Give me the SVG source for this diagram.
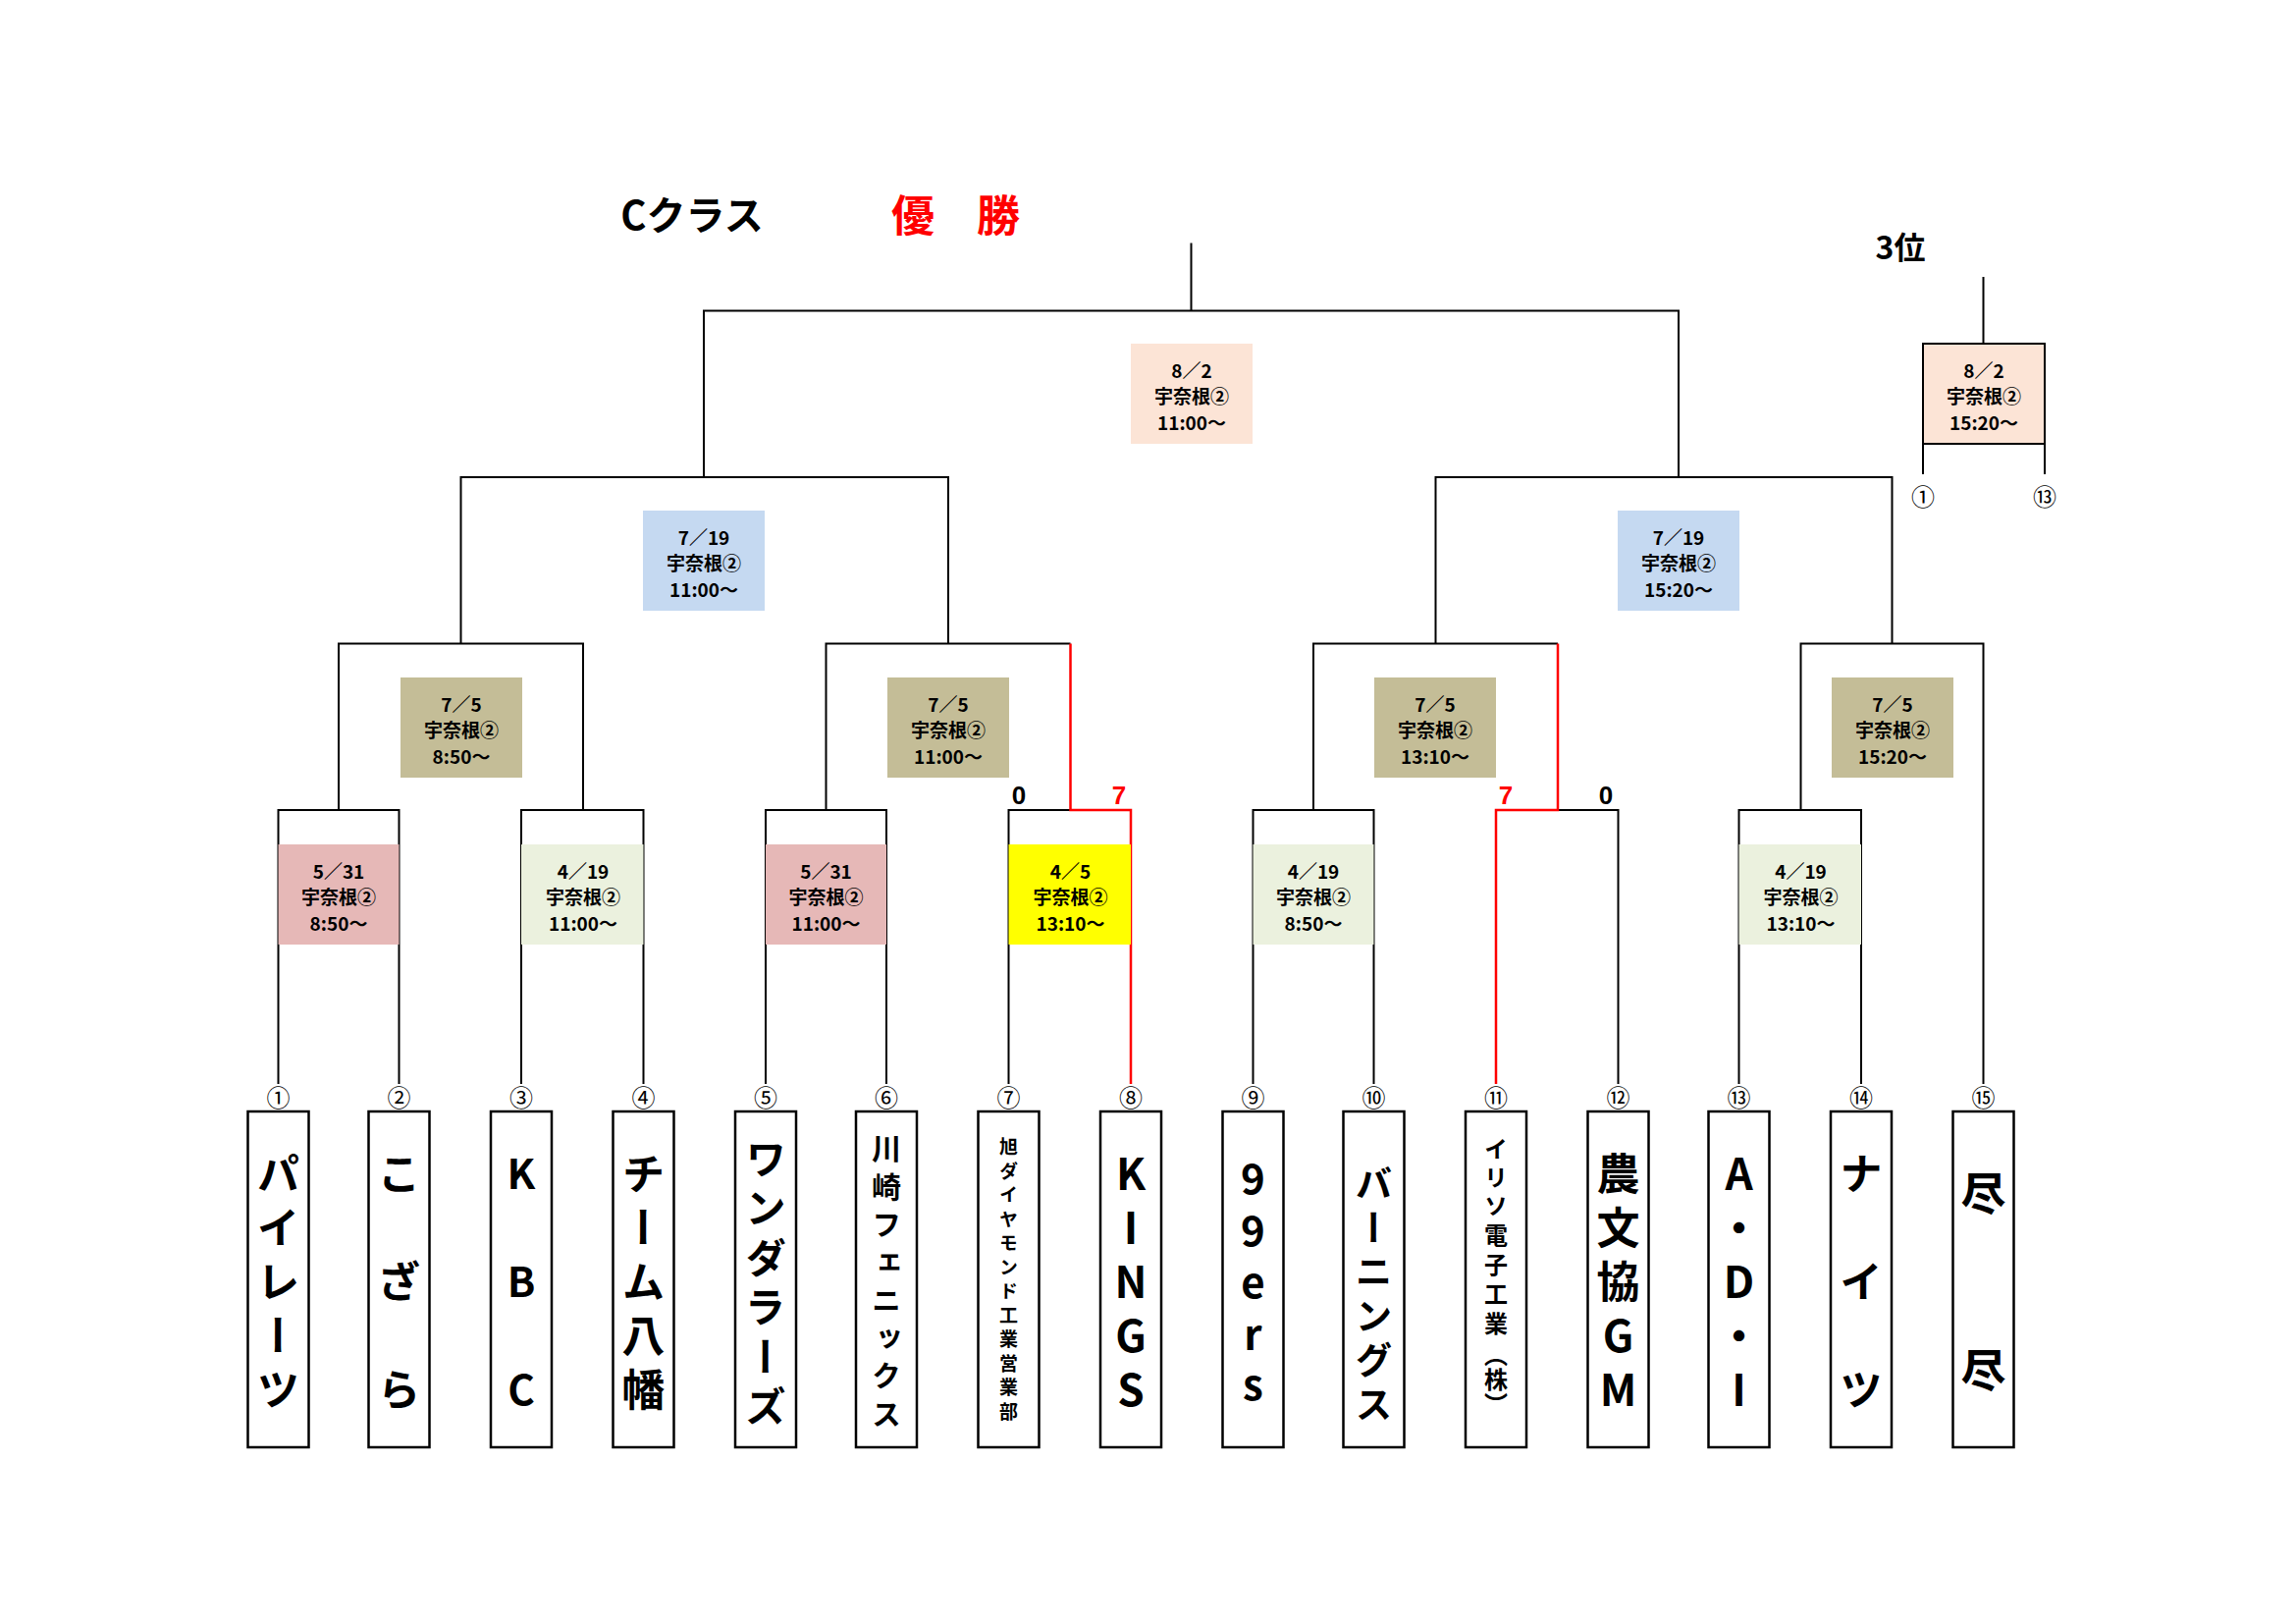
<svg xmlns="http://www.w3.org/2000/svg" width="2339" height="1654" viewBox="0 0 2339 1654">
<style>
.ln{fill:none;stroke:#000;stroke-width:2}
.rd{fill:none;stroke:#f00;stroke-width:2.5}
.box{stroke:none}
.bt{font-family:"Noto Sans CJK JP","Liberation Sans",sans-serif;font-size:19px;font-weight:bold;text-anchor:middle;dominant-baseline:central;fill:#000}
.team{fill:#fff;stroke:#000;stroke-width:2.5}
.nm{font-family:"Noto Sans CJK JP",sans-serif;font-weight:bold;writing-mode:vertical-rl;text-orientation:upright;text-anchor:middle;dominant-baseline:central;fill:#000}
.num{font-family:"Noto Sans CJK JP",sans-serif;font-size:24px;text-anchor:middle;dominant-baseline:central;fill:#000}
.sc{font-family:"Liberation Sans",sans-serif;font-size:26px;font-weight:bold;text-anchor:middle;dominant-baseline:central}
.ttl{font-family:"Noto Sans CJK JP",sans-serif;font-weight:bold;text-anchor:middle;dominant-baseline:central}
</style>
<g id="title">
<text class="ttl" x="705" y="217" font-size="40">Cクラス</text>
<text class="ttl" x="930" y="217" font-size="44" fill="#f00">優</text>
<text class="ttl" x="1017" y="217" font-size="44" fill="#f00">勝</text>
<text class="ttl" x="1936" y="250" font-size="32">3位</text>
</g>
<g id="connectors">
<path class="ln" d="M283.5,1104V825H406.5V1104M531,1104V825H655.5V1104M780,1104V825H903V1104M1027.5,1104V825H1090.5M1276.5,1104V825H1399.5V1104M1648.5,1104V825H1587M1771.5,1104V825H1896V1104"/>
<path class="ln" d="M345,825V655.5H594V825M841.5,825V655.5H1090.5M1338,825V655.5H1462.5M1587,655.5H1462.5M1834.5,825V655.5H2020.5V1104"/>
<path class="ln" d="M469.5,655.5V486H966V655.5M1462.5,655.5V486H1927.5V655.5"/>
<path class="ln" d="M717,486V316.5H1710V486M1213.5,316.5V247.5"/>
<path class="rd" d="M1152,1104V825H1090.5V655.5"/>
<path class="rd" d="M1524,1104V825H1587V655.5"/>
<path class="ln" d="M2020.5,282V350M1959,483V350H2083V483"/>
</g>
<g id="scores">
<text class="sc" x="1038" y="810">0</text>
<text class="sc" x="1140" y="810" fill="#f00">7</text>
<text class="sc" x="1534" y="810" fill="#f00">7</text>
<text class="sc" x="1636" y="810">0</text>
</g>
<g id="matches">
<g id="m1"><rect class="box" x="283.5" y="860" width="123" height="102" fill="#E6B8B7"/><text class="bt" x="345" y="886">5／31</text><text class="bt" x="345" y="912">宇奈根②</text><text class="bt" x="345" y="939">8:50～</text></g>
<g id="m2"><rect class="box" x="531" y="860" width="124.5" height="102" fill="#EBF1DE"/><text class="bt" x="594" y="886">4／19</text><text class="bt" x="594" y="912">宇奈根②</text><text class="bt" x="594" y="939">11:00～</text></g>
<g id="m3"><rect class="box" x="780" y="860" width="123" height="102" fill="#E6B8B7"/><text class="bt" x="841.5" y="886">5／31</text><text class="bt" x="841.5" y="912">宇奈根②</text><text class="bt" x="841.5" y="939">11:00～</text></g>
<g id="m4"><rect class="box" x="1027.5" y="860" width="124.5" height="102" fill="#FFFF00"/><text class="bt" x="1090.5" y="886">4／5</text><text class="bt" x="1090.5" y="912">宇奈根②</text><text class="bt" x="1090.5" y="939">13:10～</text></g>
<g id="m5"><rect class="box" x="1276.5" y="860" width="123" height="102" fill="#EBF1DE"/><text class="bt" x="1338" y="886">4／19</text><text class="bt" x="1338" y="912">宇奈根②</text><text class="bt" x="1338" y="939">8:50～</text></g>
<g id="m7"><rect class="box" x="1771.5" y="860" width="124.5" height="102" fill="#EBF1DE"/><text class="bt" x="1834.5" y="886">4／19</text><text class="bt" x="1834.5" y="912">宇奈根②</text><text class="bt" x="1834.5" y="939">13:10～</text></g>
<g id="r2a"><rect class="box" x="408" y="690" width="124" height="102" fill="#C4BD97"/><text class="bt" x="470" y="716">7／5</text><text class="bt" x="470" y="742">宇奈根②</text><text class="bt" x="470" y="769">8:50～</text></g>
<g id="r2b"><rect class="box" x="904" y="690" width="124" height="102" fill="#C4BD97"/><text class="bt" x="966" y="716">7／5</text><text class="bt" x="966" y="742">宇奈根②</text><text class="bt" x="966" y="769">11:00～</text></g>
<g id="r2c"><rect class="box" x="1400" y="690" width="124" height="102" fill="#C4BD97"/><text class="bt" x="1462" y="716">7／5</text><text class="bt" x="1462" y="742">宇奈根②</text><text class="bt" x="1462" y="769">13:10～</text></g>
<g id="r2d"><rect class="box" x="1866" y="690" width="124" height="102" fill="#C4BD97"/><text class="bt" x="1928" y="716">7／5</text><text class="bt" x="1928" y="742">宇奈根②</text><text class="bt" x="1928" y="769">15:20～</text></g>
<g id="r3a"><rect class="box" x="655" y="520" width="124" height="102" fill="#C5D9F1"/><text class="bt" x="717" y="546">7／19</text><text class="bt" x="717" y="572">宇奈根②</text><text class="bt" x="717" y="599">11:00～</text></g>
<g id="r3b"><rect class="box" x="1648" y="520" width="124" height="102" fill="#C5D9F1"/><text class="bt" x="1710" y="546">7／19</text><text class="bt" x="1710" y="572">宇奈根②</text><text class="bt" x="1710" y="599">15:20～</text></g>
<g id="final"><rect class="box" x="1152" y="350" width="124" height="102" fill="#FCE4D6"/><text class="bt" x="1214" y="376">8／2</text><text class="bt" x="1214" y="402">宇奈根②</text><text class="bt" x="1214" y="429">11:00～</text></g>
<g id="third"><rect x="1959" y="350" width="124" height="102" fill="#FCE4D6" stroke="#000" stroke-width="2"/><text class="bt" x="2021" y="376">8／2</text><text class="bt" x="2021" y="402">宇奈根②</text><text class="bt" x="2021" y="429">15:20～</text>
<text class="num" x="1959" y="504">①</text><text class="num" x="2083" y="504">⑬</text></g>
</g>
<g id="teams">
<g id="t1"><rect class="team" x="252.5" y="1132" width="62" height="342"/><text class="num" x="283.5" y="1116">①</text>
<text class="nm" font-size="44" x="283.5" y="1195">パ</text><text class="nm" font-size="44" x="283.5" y="1250">イ</text><text class="nm" font-size="44" x="283.5" y="1305">レ</text><text class="nm" font-size="44" x="283.5" y="1360">ー</text><text class="nm" font-size="44" x="283.5" y="1415">ツ</text></g>
<g id="t2"><rect class="team" x="375.5" y="1132" width="62" height="342"/><text class="num" x="406.5" y="1116">②</text>
<text class="nm" font-size="44" font-weight="normal" x="406.5" y="1195">こ</text><text class="nm" font-size="44" font-weight="normal" x="406.5" y="1305">ざ</text><text class="nm" font-size="44" font-weight="normal" x="406.5" y="1415">ら</text></g>
<g id="t3"><rect class="team" x="500" y="1132" width="62" height="342"/><text class="num" x="531" y="1116">③</text>
<text class="nm" font-size="42" font-weight="normal" x="531" y="1195">K</text><text class="nm" font-size="42" font-weight="normal" x="531" y="1305">B</text><text class="nm" font-size="42" font-weight="normal" x="531" y="1415">C</text></g>
<g id="t4"><rect class="team" x="624.5" y="1132" width="62" height="342"/><text class="num" x="655.5" y="1116">④</text>
<text class="nm" font-size="44" x="655.5" y="1195">チ</text><text class="nm" font-size="44" x="655.5" y="1250">ー</text><text class="nm" font-size="44" x="655.5" y="1305">ム</text><text class="nm" font-size="44" x="655.5" y="1360">八</text><text class="nm" font-size="44" x="655.5" y="1415">幡</text></g>
<g id="t5"><rect class="team" x="749" y="1132" width="62" height="342"/><text class="num" x="780" y="1116">⑤</text>
<text class="nm" font-size="42" x="780" y="1180">ワ</text><text class="nm" font-size="42" x="780" y="1230">ン</text><text class="nm" font-size="42" x="780" y="1281">ダ</text><text class="nm" font-size="42" x="780" y="1331">ラ</text><text class="nm" font-size="42" x="780" y="1382">ー</text><text class="nm" font-size="42" x="780" y="1432">ズ</text></g>
<g id="t6"><rect class="team" x="872" y="1132" width="62" height="342"/><text class="num" x="903" y="1116">⑥</text>
<text class="nm" font-size="30" x="903" y="1170">川</text><text class="nm" font-size="30" x="903" y="1209">崎</text><text class="nm" font-size="30" x="903" y="1247">フ</text><text class="nm" font-size="30" x="903" y="1286">ェ</text><text class="nm" font-size="30" x="903" y="1324">ニ</text><text class="nm" font-size="30" x="903" y="1363">ッ</text><text class="nm" font-size="30" x="903" y="1401">ク</text><text class="nm" font-size="30" x="903" y="1440">ス</text></g>
<g id="t7"><rect class="team" x="996.5" y="1132" width="62" height="342"/><text class="num" x="1027.5" y="1116">⑦</text>
<text class="nm" font-size="19" x="1027.5" y="1168">旭</text><text class="nm" font-size="19" x="1027.5" y="1193">ダ</text><text class="nm" font-size="19" x="1027.5" y="1217">イ</text><text class="nm" font-size="19" x="1027.5" y="1242">ヤ</text><text class="nm" font-size="19" x="1027.5" y="1266">モ</text><text class="nm" font-size="19" x="1027.5" y="1291">ン</text><text class="nm" font-size="19" x="1027.5" y="1315">ド</text><text class="nm" font-size="19" x="1027.5" y="1340">工</text><text class="nm" font-size="19" x="1027.5" y="1364">業</text><text class="nm" font-size="19" x="1027.5" y="1389">営</text><text class="nm" font-size="19" x="1027.5" y="1413">業</text><text class="nm" font-size="19" x="1027.5" y="1438">部</text></g>
<g id="t8"><rect class="team" x="1121" y="1132" width="62" height="342"/><text class="num" x="1152" y="1116">⑧</text>
<text class="nm" font-size="44" x="1152" y="1195">K</text><text class="nm" font-size="44" x="1152" y="1250">I</text><text class="nm" font-size="44" x="1152" y="1305">N</text><text class="nm" font-size="44" x="1152" y="1360">G</text><text class="nm" font-size="44" x="1152" y="1415">S</text></g>
<g id="t9"><rect class="team" x="1245.5" y="1132" width="62" height="342"/><text class="num" x="1276.5" y="1116">⑨</text>
<text class="nm" font-size="42" x="1276.5" y="1200">9</text><text class="nm" font-size="42" x="1276.5" y="1253">9</text><text class="nm" font-size="42" x="1276.5" y="1306">e</text><text class="nm" font-size="42" x="1276.5" y="1359">r</text><text class="nm" font-size="42" x="1276.5" y="1410">s</text></g>
<g id="t10"><rect class="team" x="1368.5" y="1132" width="62" height="342"/><text class="num" x="1399.5" y="1116">⑩</text>
<text class="nm" font-size="38" x="1399.5" y="1205">バ</text><text class="nm" font-size="38" x="1399.5" y="1250">ー</text><text class="nm" font-size="38" x="1399.5" y="1295">ニ</text><text class="nm" font-size="38" x="1399.5" y="1340">ン</text><text class="nm" font-size="38" x="1399.5" y="1385">グ</text><text class="nm" font-size="38" x="1399.5" y="1400" dy="30">ス</text></g>
<g id="t11"><rect class="team" x="1493" y="1132" width="62" height="342"/><text class="num" x="1524" y="1116">⑪</text>
<text class="nm" font-size="24" x="1524" y="1170">イ</text><text class="nm" font-size="24" x="1524" y="1199">リ</text><text class="nm" font-size="24" x="1524" y="1228">ソ</text><text class="nm" font-size="24" x="1524" y="1258">電</text><text class="nm" font-size="24" x="1524" y="1288">子</text><text class="nm" font-size="24" x="1524" y="1318">工</text><text class="nm" font-size="24" x="1524" y="1348">業</text><text class="nm" font-size="24" x="1524" y="1380">（</text><text class="nm" font-size="24" x="1524" y="1405">株</text><text class="nm" font-size="24" x="1524" y="1430">）</text></g>
<g id="t12"><rect class="team" x="1617.5" y="1132" width="62" height="342"/><text class="num" x="1648.5" y="1116">⑫</text>
<text class="nm" font-size="44" x="1648.5" y="1195">農</text><text class="nm" font-size="44" x="1648.5" y="1250">文</text><text class="nm" font-size="44" x="1648.5" y="1305">協</text><text class="nm" font-size="44" x="1648.5" y="1360">G</text><text class="nm" font-size="44" x="1648.5" y="1415">M</text></g>
<g id="t13"><rect class="team" x="1740.5" y="1132" width="62" height="342"/><text class="num" x="1771.5" y="1116">⑬</text>
<text class="nm" font-size="44" x="1771.5" y="1195">A</text><text class="nm" font-size="44" x="1771.5" y="1250">・</text><text class="nm" font-size="44" x="1771.5" y="1305">D</text><text class="nm" font-size="44" x="1771.5" y="1360">・</text><text class="nm" font-size="44" x="1771.5" y="1415">I</text></g>
<g id="t14"><rect class="team" x="1865" y="1132" width="62" height="342"/><text class="num" x="1896" y="1116">⑭</text>
<text class="nm" font-size="44" x="1896" y="1195">ナ</text><text class="nm" font-size="44" x="1896" y="1305">イ</text><text class="nm" font-size="44" x="1896" y="1415">ツ</text></g>
<g id="t15"><rect class="team" x="1989.5" y="1132" width="62" height="342"/><text class="num" x="2020.5" y="1116">⑮</text>
<text class="nm" font-size="46" x="2020.5" y="1215">尽</text><text class="nm" font-size="46" x="2020.5" y="1395">尽</text></g>
</g>
</svg>
